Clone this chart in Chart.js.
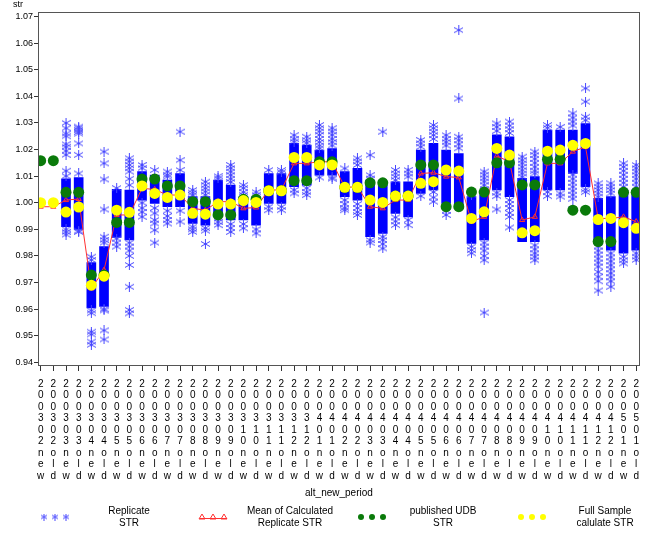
<!DOCTYPE html>
<html>
<head>
<meta charset="utf-8">
<script src="https://cdn.jsdelivr.net/npm/chart.js@4.4.0/dist/chart.umd.min.js"></script>
<style>
  body { margin: 0; background: #fff; }
  canvas { display: block; }
</style>
</head>
<body>
<canvas id="chart" width="646" height="533"></canvas>
<script>
const periods = ['200302new', '200302old', '200303new', '200303old', '200304new', '200304old',
  '200305new', '200305old', '200306new', '200306old', '200307new', '200307old',
  '200308new', '200308old', '200309new', '200309old', '200310new', '200310old',
  '200311new', '200311old', '200312new', '200312old', '200401new', '200401old',
  '200402new', '200402old', '200403new', '200403old', '200404new', '200404old',
  '200405new', '200405old', '200406new', '200406old', '200407new', '200407old',
  '200408new', '200408old', '200409new', '200409old', '200410new', '200410old',
  '200411new', '200411old', '200412new', '200412old', '200501new', '200501old'];

const yTicks = [0.94, 0.95, 0.96, 0.97, 0.98, 0.99, 1.00, 1.01, 1.02, 1.03, 1.04, 1.05, 1.06, 1.07];

// published UDB STR (green)
const published = [1.0158, 1.0158, 1.0039, 1.0039, 0.9728, 0.9728, 0.9926, 0.9926, 1.0089, 1.0089, 1.0063, 1.0063,
  1.0004, 1.0004, 0.9954, 0.9954, 1.0013, 1.0013, 1.0045, 1.0045, 1.0083, 1.0083, 1.0154, 1.0154,
  1.0058, 1.0058, 1.0075, 1.0075, 1.0025, 1.0025, 1.0142, 1.0142, 0.9985, 0.9985, 1.0040, 1.0040,
  1.0150, 1.0150, 1.0067, 1.0067, 1.0163, 1.0163, 0.9972, 0.9972, 0.9854, 0.9854, 1.0039, 1.0039];

// full sample calculated STR (yellow)
const fullSample = [1.0000, 1.0000, 0.9965, 0.9984, 0.9690, 0.9724, 0.9972, 0.9964, 1.0063, 1.0035, 1.0020, 1.0029,
  0.9960, 0.9957, 0.9995, 0.9995, 1.0008, 1.0001, 1.0045, 1.0045, 1.0170, 1.0170, 1.0142, 1.0142,
  1.0058, 1.0058, 1.0010, 1.0001, 1.0025, 1.0025, 1.0073, 1.0079, 1.0123, 1.0119, 0.9941, 0.9966,
  1.0204, 1.0179, 0.9887, 0.9895, 1.0194, 1.0198, 1.0216, 1.0223, 0.9937, 0.9941, 0.9925, 0.9904];

// mean of calculated replicate STR (red)
const repMean = [0.9985, 0.9985, 1.0010, 1.0014, 0.9678, 0.9747, 0.9954, 0.9954, 1.0054, 1.0050, 1.0029, 1.0029,
  0.9979, 0.9972, 1.0004, 1.0004, 0.9979, 0.9982, 1.0048, 1.0048, 1.0148, 1.0148, 1.0154, 1.0154,
  1.0058, 1.0060, 0.9985, 0.9979, 1.0010, 1.0010, 1.0110, 1.0113, 1.0098, 1.0095, 0.9929, 0.9947,
  1.0176, 1.0154, 0.9935, 0.9947, 1.0148, 1.0148, 1.0192, 1.0210, 0.9941, 0.9941, 0.9947, 0.9929];

// dense part of the replicate cloud (low / high)
const repLow = [null, null, 0.9910, 0.9900, 0.9605, 0.9610, 0.9870, 0.9860, 1.0010, 0.9997, 0.9985, 0.9985,
  0.9922, 0.9916, 0.9954, 0.9935, 0.9935, 0.9916, 0.9997, 0.9997, 1.0060, 1.0066, 1.0104, 1.0104,
  1.0023, 1.0010, 0.9872, 0.9885, 0.9960, 0.9947, 1.0035, 1.0048, 0.9997, 0.9985, 0.9847, 0.9860,
  1.0048, 1.0023, 0.9854, 0.9854, 1.0048, 1.0048, 1.0110, 1.0060, 0.9847, 0.9822, 0.9810, 0.9822];
const repHigh = [null, null, 1.0090, 1.0095, 0.9775, 0.9835, 1.0050, 1.0048, 1.0117, 1.0104, 1.0085, 1.0110,
  1.0023, 1.0023, 1.0085, 1.0066, 1.0023, 1.0023, 1.0110, 1.0110, 1.0223, 1.0217, 1.0198, 1.0204,
  1.0117, 1.0129, 1.0085, 1.0066, 1.0079, 1.0079, 1.0198, 1.0223, 1.0198, 1.0185, 1.0023, 1.0030,
  1.0255, 1.0248, 1.0092, 1.0098, 1.0273, 1.0273, 1.0273, 1.0298, 1.0017, 1.0023, 1.0048, 1.0048];

// single replicate values outside the dense part
const repSpread = [
  [], [],
  [1.030, 1.028, 1.026, 1.025, 1.022, 1.021, 1.0195, 1.018, 1.012, 1.010, 0.990, 0.989, 0.988],
  [1.0286, 1.028, 1.0273, 1.0266, 1.026, 1.0223, 1.018, 1.011, 0.9895, 0.989],
  [0.9797, 0.9785, 0.9595, 0.9585, 0.9515, 0.9505, 0.9478, 0.9466],
  [1.0192, 1.0148, 1.0088, 0.9975, 0.9872, 0.986, 0.985, 0.960, 0.9595, 0.952, 0.9486],
  [1.0055, 0.9865, 0.985, 0.9835],
  [1.0167, 1.0155, 1.0142, 1.013, 1.0117, 1.009, 1.0066, 0.985, 0.9835, 0.982, 0.980, 0.9766, 0.9684, 0.9597, 0.9584],
  [1.0142, 1.013, 1.000, 0.998, 0.9965, 0.9947],
  [1.0123, 0.998, 0.996, 0.9935, 0.9922, 0.9897, 0.985],
  [1.0117, 1.0105, 1.0098, 0.997, 0.995, 0.9935, 0.9922],
  [1.0267, 1.016, 1.0123, 0.997, 0.9929],
  [1.0048, 1.0038, 1.0029, 0.991, 0.990, 0.989],
  [1.0079, 1.0066, 1.0054, 1.0042, 1.003, 0.9905, 0.9895, 0.9845],
  [1.010, 1.0092, 0.994, 0.9928, 0.9916],
  [1.0142, 1.013, 1.0117, 1.0104, 1.009, 1.0078, 0.992, 0.9905, 0.989],
  [1.0066, 1.0055, 1.004, 1.003, 0.992, 0.9904],
  [1.004, 1.003, 0.990, 0.9885],
  [1.0123, 0.9985, 0.9972],
  [1.0123, 1.0115, 0.9985, 0.9972],
  [1.0254, 1.024, 1.023, 1.0048, 1.0035],
  [1.0248, 1.0235, 1.0225, 1.0055, 1.004, 1.0029],
  [1.0292, 1.028, 1.0268, 1.0255, 1.024, 1.0228, 1.0215, 1.0205, 1.0095],
  [1.028, 1.0268, 1.0255, 1.024, 1.0228, 1.0215, 1.0095, 1.009],
  [1.0129, 1.001, 0.9995, 0.998, 0.9972],
  [1.0167, 1.0155, 1.0142, 0.9995, 0.998, 0.9965, 0.9954],
  [1.0179, 1.0104, 1.0091, 0.986, 0.985],
  [1.0267, 1.0075, 0.9872, 0.986, 0.9845, 0.9828],
  [1.0123, 1.011, 1.0098, 1.0085, 0.9945, 0.993, 0.9916],
  [1.0123, 1.011, 1.0098, 0.9935, 0.9916],
  [1.0236, 1.0223, 1.021, 1.0025],
  [1.0292, 1.028, 1.0267, 1.0254, 1.024, 1.004, 1.002, 1.0004],
  [1.0254, 1.024, 1.0228, 1.0215, 0.9985, 0.997, 0.9954],
  [1.0649, 1.0392, 1.0248, 1.0235, 1.022, 1.0205],
  [1.003, 0.9835, 0.9822, 0.981],
  [1.0117, 1.0105, 1.0092, 1.008, 1.0066, 1.005, 1.004, 0.985, 0.9835, 0.982, 0.980, 0.9784, 0.9587],
  [1.0298, 1.0285, 1.027, 1.0038, 1.0025, 0.9975],
  [1.0305, 1.029, 1.0276, 1.0262, 1.001, 0.9995, 0.998, 0.9962, 0.9947, 0.9907],
  [1.0173, 1.016, 1.0148, 1.0135, 1.0122, 1.011, 1.0098],
  [1.0192, 1.0179, 1.0165, 1.015, 1.0135, 1.012, 1.011, 0.984, 0.9825, 0.981, 0.9797, 0.9784],
  [1.0292, 1.0282, 1.004, 1.0025],
  [1.0285, 1.0035, 1.0023],
  [1.0336, 1.032, 1.0305, 1.029, 1.0105, 1.009, 1.0075, 1.006, 1.0045, 1.003, 1.0015, 0.9975],
  [1.043, 1.038, 1.0323, 1.031, 1.005, 1.004],
  [1.0073, 1.006, 1.0048, 1.0035, 1.0023, 0.9835, 0.982, 0.9805, 0.979, 0.9775, 0.976, 0.974, 0.9722, 0.9705, 0.967],
  [1.0073, 1.006, 1.0048, 1.0035, 0.981, 0.9795, 0.978, 0.9765, 0.975, 0.9735, 0.972, 0.9705, 0.9684],
  [1.0148, 1.0135, 1.012, 1.0105, 1.009, 1.0075, 1.006, 0.9797, 0.9784, 0.9772],
  [1.0142, 1.013, 1.0117, 1.0104, 1.009, 1.0075, 1.006, 0.981, 0.9797, 0.9785]
];

const FONT = '"Liberation Sans", Arial, sans-serif';
const BLUE = '#0000ff';
const STAR = '#4646ff';
const RED = '#ff3030';
const GREEN = '#0a7a0a';
const YELLOW = '#ffff00';

// SAS style asterisk used for the replicate points
function starImage(w, h, color) {
  const c = document.createElement('canvas');
  c.width = w;
  c.height = h;
  const g = c.getContext('2d');
  g.strokeStyle = color;
  g.lineWidth = 1;
  g.beginPath();
  g.moveTo(w / 2, 0); g.lineTo(w / 2, h);
  g.moveTo(0, h * 0.25); g.lineTo(w, h * 0.75);
  g.moveTo(0, h * 0.75); g.lineTo(w, h * 0.25);
  g.stroke();
  return c;
}
const star = starImage(9, 10, STAR);

const coreData = [];
const spreadData = [];
periods.forEach((p, i) => {
  if (repLow[i] != null) coreData.push({ x: i, y: [repLow[i], repHigh[i]] });
  repSpread[i].forEach(v => spreadData.push({ x: i, y: v }));
});
const meanData = repMean.map((v, i) => ({ x: i, y: v }));
const pubData = published.map((v, i) => ({ x: i, y: v }));
const fullData = fullSample.map((v, i) => ({ x: i, y: v }));

// frame, y title and legend
const extras = {
  id: 'extras',
  afterDraw(chart) {
    const { ctx, chartArea: a } = chart;
    ctx.save();
    ctx.strokeStyle = '#555';
    ctx.lineWidth = 1;
    ctx.strokeRect(Math.round(a.left) + 0.5, Math.round(a.top) + 0.5,
      Math.round(a.right - a.left) - 1, Math.round(a.bottom - a.top));

    ctx.fillStyle = '#000';
    ctx.font = '9px ' + FONT;
    ctx.textAlign = 'left';
    ctx.textBaseline = 'middle';
    ctx.fillText('str', 13, 5);

    const ly = 517;
    // replicate
    [44, 55, 66].forEach(x => ctx.drawImage(starImage(6, 7, STAR), x - 3, ly - 3.5));
    // mean
    ctx.strokeStyle = RED;
    ctx.beginPath(); ctx.moveTo(200, ly + 1.5); ctx.lineTo(227, ly + 1.5); ctx.stroke();
    [202, 213, 224].forEach(x => {
      ctx.beginPath();
      ctx.moveTo(x, ly - 3); ctx.lineTo(x + 3, ly + 2); ctx.lineTo(x - 3, ly + 2); ctx.closePath();
      ctx.stroke();
    });
    // published
    ctx.fillStyle = GREEN;
    [361, 372, 383].forEach(x => { ctx.beginPath(); ctx.arc(x, ly, 3, 0, Math.PI * 2); ctx.fill(); });
    // full sample
    ctx.fillStyle = YELLOW;
    [521, 532, 543].forEach(x => { ctx.beginPath(); ctx.arc(x, ly, 3, 0, Math.PI * 2); ctx.fill(); });

    ctx.fillStyle = '#000';
    ctx.font = '10px ' + FONT;
    ctx.textAlign = 'center';
    [[129, 'Replicate', 'STR'], [290, 'Mean of Calculated', 'Replicate STR'],
     [443, 'published UDB', 'STR'], [605, 'Full Sample', 'calulate STR']].forEach(([x, t1, t2]) => {
      ctx.fillText(t1, x, 511);
      ctx.fillText(t2, x, 523);
    });
    ctx.restore();
  }
};

new Chart(document.getElementById('chart'), {
  type: 'bar',
  data: {
    datasets: [
      {
        type: 'bar',
        label: 'Replicate STR',
        data: coreData,
        backgroundColor: BLUE,
        borderWidth: 0,
        barThickness: 9,
        order: 5,
      },
      {
        type: 'scatter',
        label: 'Replicate STR',
        data: spreadData,
        pointStyle: star,
        order: 4,
      },
      {
        type: 'line',
        label: 'Mean of Calculated Replicate STR',
        data: meanData,
        borderColor: RED,
        borderWidth: 1,
        tension: 0,
        pointStyle: 'triangle',
        pointRadius: 3,
        pointBorderColor: RED,
        pointBorderWidth: 1,
        pointBackgroundColor: 'rgba(0,0,0,0)',
        order: 3,
      },
      {
        type: 'scatter',
        label: 'published UDB STR',
        data: pubData,
        pointRadius: 5.5,
        backgroundColor: GREEN,
        borderWidth: 0,
        order: 2,
      },
      {
        type: 'scatter',
        label: 'Full Sample calulate STR',
        data: fullData,
        pointRadius: 5.5,
        backgroundColor: YELLOW,
        borderWidth: 0,
        order: 1,
      },
    ],
  },
  options: {
    responsive: false,
    animation: false,
    layout: {
      padding: { top: 12, right: 5, left: 0, bottom: 0 },
    },
    plugins: {
      legend: { display: false },
      tooltip: { enabled: false },
    },
    scales: {
      x: {
        type: 'linear',
        offset: false,
        min: -0.21,
        max: 47.29,
        afterFit: s => { s.height = 168; },
        afterBuildTicks: s => { s.ticks = periods.map((p, i) => ({ value: i })); },
        grid: { drawOnChartArea: false, offset: false, tickLength: 6, tickColor: '#333' },
        border: { color: '#555' },
        ticks: {
          autoSkip: false,
          maxRotation: 0,
          minRotation: 0,
          padding: 7,
          color: '#000',
          font: { family: FONT, size: 10, lineHeight: 1.15 },
          callback: v => periods[v] ? periods[v].split('') : '',
        },
        title: {
          display: true,
          text: 'alt_new_period',
          color: '#000',
          font: { family: FONT, size: 10 },
          padding: { top: 0, bottom: 34 },
        },
      },
      y: {
        min: 0.939,
        max: 1.0717,
        afterFit: s => { s.width = 38; },
        afterBuildTicks: s => {
          const t = [];
          yTicks.forEach((v, k) => {
            t.push({ value: v });
            if (k < yTicks.length - 1) t.push({ value: v + 0.005 });
          });
          s.ticks = t;
        },
        grid: { drawOnChartArea: false, tickLength: 4, tickColor: '#333' },
        border: { color: '#555' },
        ticks: {
          padding: 1,
          color: '#000',
          font: { family: FONT, size: 9 },
          callback: v => yTicks.some(t => Math.abs(t - v) < 1e-6) ? v.toFixed(2) : '',
        },
      },
    },
  },
  plugins: [extras],
});
</script>
</body>
</html>
